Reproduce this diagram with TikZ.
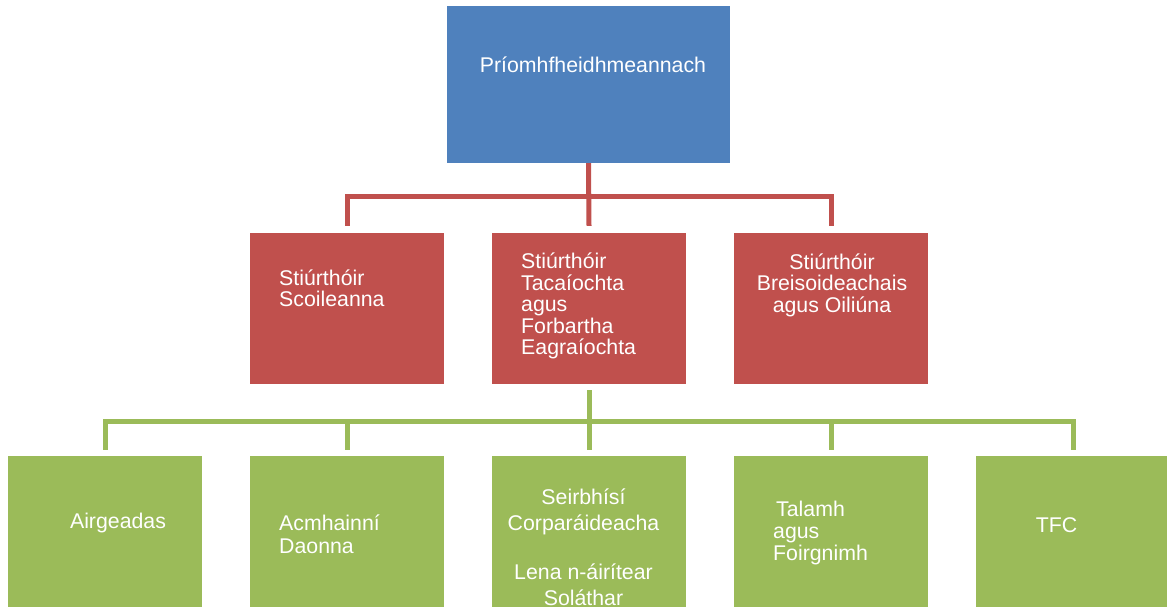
\documentclass[tikz,border=0pt]{standalone}
\usepackage{fontspec}
\setmainfont{Liberation Sans}
\definecolor{cblue}{HTML}{4F81BD}
\definecolor{cred}{HTML}{C0504D}
\definecolor{cgreen}{HTML}{9BBB59}
\begin{document}
\begin{tikzpicture}[x=1pt,y=1pt,
  box/.style={rectangle,inner sep=0pt,minimum width=194pt,minimum height=151pt},
  topbox/.style={rectangle,inner sep=0pt,fill=cblue,minimum width=283pt,minimum height=157pt},
  redbox/.style={box,fill=cred},
  greenbox/.style={box,fill=cgreen},
  lbl/.style={inner sep=0pt,text=white,font=\fontsize{21.3pt}{21.5pt}\selectfont},
  redline/.style={draw=cred,line width=5pt},
  greenline/.style={draw=cgreen,line width=5pt}]
\useasboundingbox (0,0) rectangle (1167,607);
\clip (0,0) rectangle (1167,607);
% boxes
\node[topbox] (top) at (588.5,522.5) {};
\node[redbox] (r1) at (347,298.5) {};
\node[redbox] (r2) at (589,298.5) {};
\node[redbox] (r3) at (831,298.5) {};
\node[greenbox] (g1) at (105,75.5) {};
\node[greenbox] (g2) at (347,75.5) {};
\node[greenbox] (g3) at (589,75.5) {};
\node[greenbox] (g4) at (831,75.5) {};
\node[greenbox] (g5) at (1073,75.5) {};
% labels
\node[lbl] (ttop) at (593,542) {Príomhfheidhmeannach};
\node[lbl,anchor=west,align=left] (tr1) at (279,318.5) {Stiúrthóir\\Scoileanna};
\node[lbl,anchor=west,align=left] (tr2) at (521,301) {Stiúrthóir\\Tacaíochta\\agus\\Forbartha\\Eagraíochta};
\node[lbl,align=center] (tr3) at (832,322) {Stiúrthóir\\Breisoideachais\\agus Oiliúna};
\node[lbl] (tg1) at (118,84) {Airgeadas};
\node[lbl,anchor=west,align=left,font=\fontsize{21.3pt}{23pt}\selectfont] (tg2) at (279,72.5) {Acmhainní\\Daonna};
\node[lbl,align=center,font=\fontsize{21.3pt}{25.5pt}\selectfont] (tg3) at (583.5,59.5) {Seirbhísí\\Corparáideacha\\[24pt]Lena n-áirítear\\Soláthar};
\node[lbl,anchor=west,align=left,font=\fontsize{21.3pt}{22pt}\selectfont] (tg4) at (773,74) {\hspace{3pt}Talamh\\agus\\Foirgnimh};
\node[lbl] (tg5) at (1056.5,82) {TFC};
% red connectors
\draw[redline] (top.south) -- ++(0,-33) -| ([yshift=7pt]r1.north);
\draw[redline] (top.south) -- ([yshift=7pt]r2.north);
\draw[redline] (top.south) -- ++(0,-33) -| ([yshift=7pt]r3.north);
% green connectors
\foreach \g in {g1,g2,g4,g5}{
  \draw[greenline] ([yshift=-6pt]r2.south) -- ++(0,-31) -| ([yshift=6pt]\g.north);
}
\draw[greenline] ([yshift=-6pt]r2.south) -- ([yshift=6pt]g3.north);
\end{tikzpicture}
\end{document}
